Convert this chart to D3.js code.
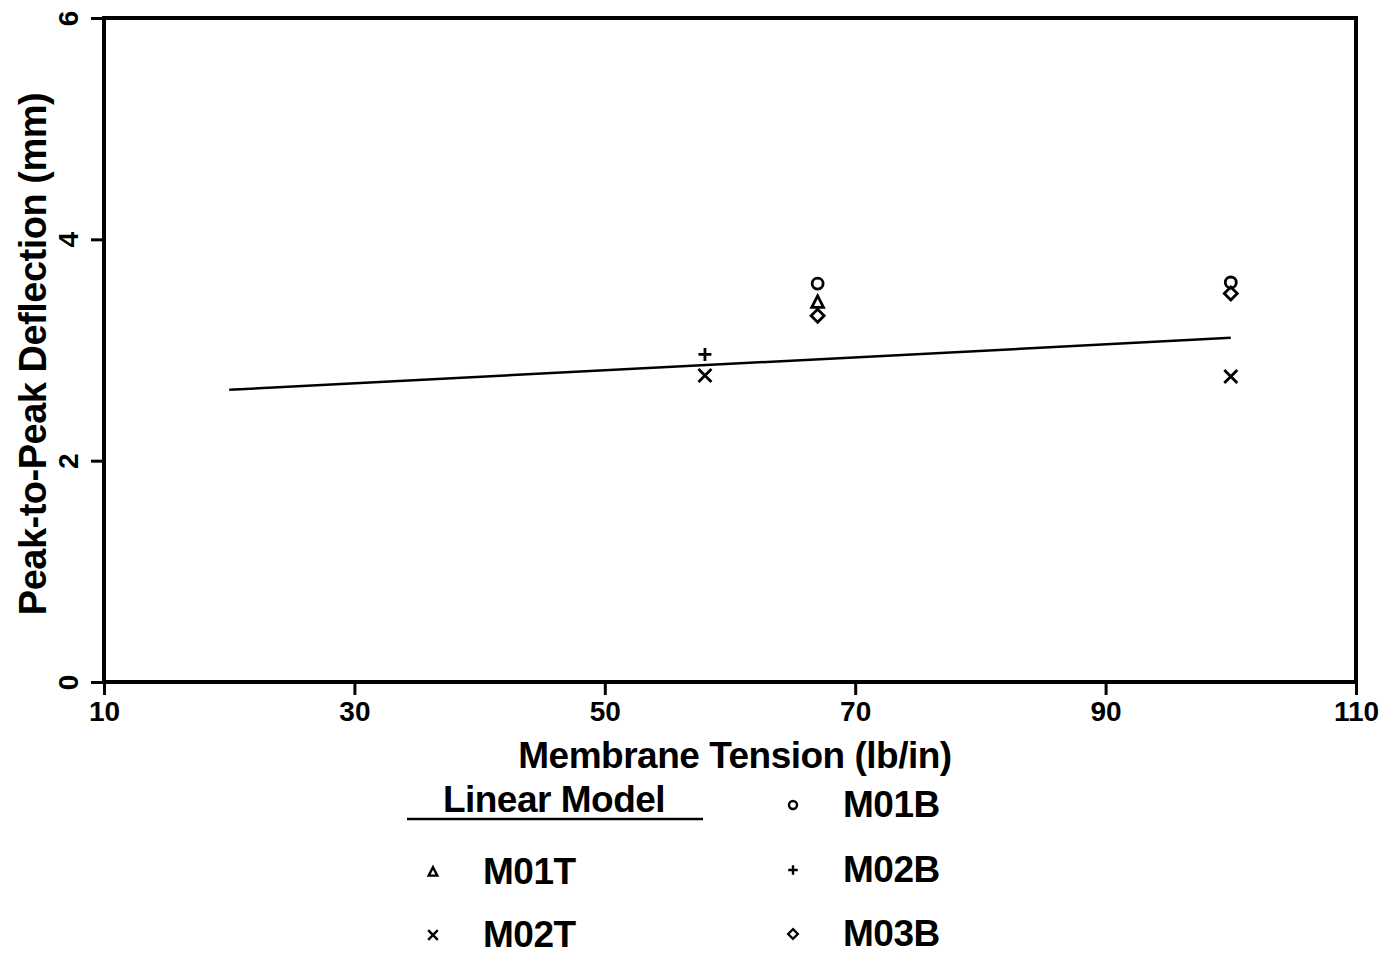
<!DOCTYPE html>
<html>
<head>
<meta charset="utf-8">
<script src="https://cdn.jsdelivr.net/npm/d3@7"></script>
<style>
  body { margin: 0; background: #fff; }
  svg text { font-family: "Liberation Sans", Arial, sans-serif; font-weight: bold; fill: #000; }
</style>
</head>
<body>
<div id="result"></div>
<script>
// data
const xTicks = [10, 30, 50, 70, 90, 110];
const yTicks = [0, 2, 4, 6];
const lineX = [20, 100];
const lineY = [2.64, 3.11];
const M01T = [[67, 3.43]];
const M02T = [[58, 2.77], [100, 2.76]];
const M01B = [[67, 3.60], [100, 3.61]];
const M02B = [[58, 2.96]];
const M03B = [[67, 3.31], [100, 3.51]];

const width = 1384, height = 956;
const margin = { top: 18, right: 28, bottom: 274, left: 104 };

const svg = d3.select('#result').append('svg')
  .attr('width', width)
  .attr('height', height);

const x = d3.scaleLinear().domain([10, 110]).range([margin.left, width - margin.right]);
const y = d3.scaleLinear().domain([0, 6]).range([height - margin.bottom, margin.top]);

// marker shapes, s = half size
function marker(type, s) {
  switch (type) {
    case 'circle': return `M${s},0A${s},${s} 0 1,1 ${-s},0A${s},${s} 0 1,1 ${s},0Z`;
    case 'triangle': return `M0,${-s}L${s * 0.9},${s * 0.75}L${-s * 0.9},${s * 0.75}Z`;
    case 'diamond': return `M0,${-s}L${s},0L0,${s}L${-s},0Z`;
    case 'plus': return `M${-s},0L${s},0M0,${-s}L0,${s}`;
    case 'x': return `M${-s},${-s}L${s},${s}M${-s},${s}L${s},${-s}`;
  }
}

const series = [
  { name: 'M01T', type: 'triangle', data: M01T },
  { name: 'M02T', type: 'x', data: M02T },
  { name: 'M01B', type: 'circle', data: M01B },
  { name: 'M02B', type: 'plus', data: M02B },
  { name: 'M03B', type: 'diamond', data: M03B }
];

// frame
const x0 = x(10), x1 = x(110), y0 = y(0), y1 = y(6);
svg.append('path')
  .attr('d', `M${x0},${y1}L${x1},${y1}L${x1},${y0}L${x0},${y0}Z`)
  .attr('fill', 'none')
  .attr('stroke', '#000')
  .attr('stroke-width', 4);

// x axis
const xAxis = svg.append('g').attr('transform', `translate(0,${y0})`)
  .call(d3.axisBottom(x).tickValues(xTicks).tickSize(13).tickPadding(6).tickFormat(d3.format('d')));
xAxis.select('.domain').remove();
xAxis.selectAll('line').attr('stroke', '#000').attr('stroke-width', 3);
xAxis.selectAll('text').attr('font-size', 28).attr('fill', '#000')
  .style('font-family', '"Liberation Sans", Arial, sans-serif');

// y axis, labels rotated
const yAxis = svg.append('g').attr('transform', `translate(${x0},0)`)
  .call(d3.axisLeft(y).tickValues(yTicks).tickSize(13).tickFormat(d3.format('d')));
yAxis.select('.domain').remove();
yAxis.selectAll('line').attr('stroke', '#000').attr('stroke-width', 3);
yAxis.selectAll('text')
  .attr('font-size', 28).attr('fill', '#000')
  .attr('x', null).attr('dy', null)
  .attr('text-anchor', 'middle')
  .attr('transform', 'translate(-36,0) rotate(-90) translate(0,10)')
  .style('font-family', '"Liberation Sans", Arial, sans-serif');

// axis titles
svg.append('text')
  .attr('x', 735)
  .attr('y', 768)
  .attr('text-anchor', 'middle')
  .attr('font-size', 37)
  .attr('letter-spacing', -0.5)
  .text('Membrane Tension (lb/in)');

svg.append('text')
  .attr('text-anchor', 'middle')
  .attr('font-size', 38)
  .attr('letter-spacing', -0.5)
  .attr('transform', `translate(46,354) rotate(-90)`)
  .text('Peak-to-Peak Deflection (mm)');

// linear model
svg.append('line')
  .attr('x1', x(lineX[0])).attr('y1', y(lineY[0]))
  .attr('x2', x(lineX[1])).attr('y2', y(lineY[1]))
  .attr('stroke', '#000').attr('stroke-width', 2.5);

// points
series.forEach(function(sr) {
  svg.append('g').selectAll('path')
    .data(sr.data)
    .enter().append('path')
    .attr('transform', function(d) { return `translate(${x(d[0])},${y(d[1])})`; })
    .attr('d', marker(sr.type, sr.type === 'circle' ? 5.5 : 6.5))
    .attr('fill', 'none')
    .attr('stroke', '#000')
    .attr('stroke-width', 2.8);
});

// legend
const legend = svg.append('g');
legend.append('text').attr('x', 554).attr('y', 812).attr('text-anchor', 'middle')
  .attr('font-size', 37).attr('letter-spacing', -0.5).text('Linear Model');
legend.append('line').attr('x1', 407).attr('x2', 703).attr('y1', 819).attr('y2', 819)
  .attr('stroke', '#000').attr('stroke-width', 2.5);

const legendPos = {
  M01B: [793, 805], M01T: [433, 872], M02B: [793, 870], M02T: [433, 935], M03B: [793, 934]
};
series.forEach(function(sr) {
  const p = legendPos[sr.name];
  legend.append('path')
    .attr('transform', `translate(${p[0]},${p[1]})`)
    .attr('d', marker(sr.type, sr.type === 'circle' ? 4 : 4.8))
    .attr('fill', 'none').attr('stroke', '#000').attr('stroke-width', 2.4);
  legend.append('text')
    .attr('x', p[0] + 50).attr('y', p[1] + 12)
    .attr('font-size', 37).attr('letter-spacing', -0.5)
    .text(sr.name);
});
</script>
</body>
</html>
